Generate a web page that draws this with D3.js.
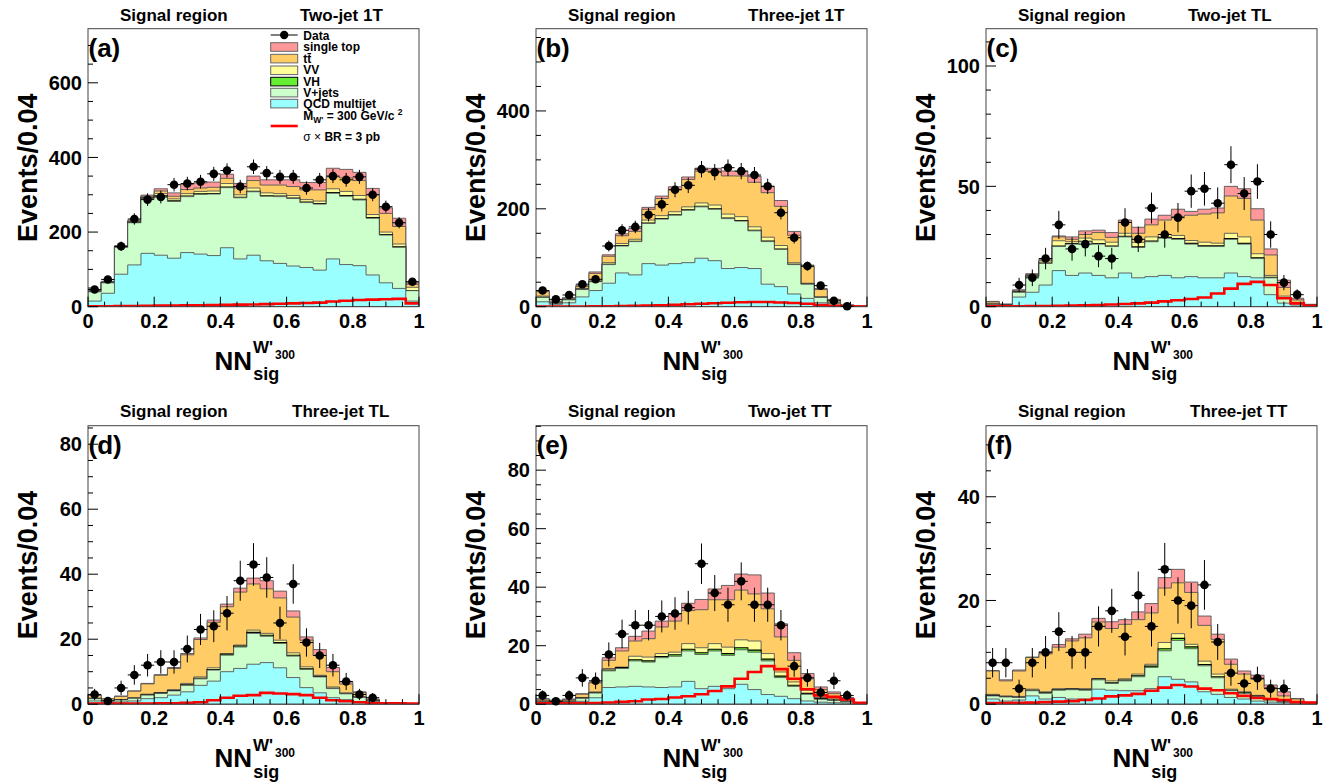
<!DOCTYPE html>
<html>
<head>
<meta charset="utf-8">
<script src="https://cdn.jsdelivr.net/npm/d3@7/dist/d3.min.js"></script>
<style>
  html, body { margin: 0; padding: 0; background: #fff; }
  svg { display: block; }
  text { font-family: "Liberation Sans", Arial, Helvetica, sans-serif; font-weight: bold; fill: #000; }
</style>
</head>
<body>
<svg id="chart" width="1338" height="783"></svg>
<script>
// ---------------- DATA (25 bins of width 0.04 in NN_sig) ----------------
const nBins = 25;
const binEdges = d3.range(nBins + 1).map(i => i / nBins);

// Panel (a) Two-jet 1T
const a_data  = [46, 73, 162, 235, 287, 294, 327, 330, 335, 356, 365, 322, 375, 358, 348, 348, 318, 340, 350, 340, 348, 300, 268, 225, 67];
const a_qcd   = [15, 36, 87, 112, 143, 138, 130, 145, 141, 137, 158, 128, 138, 123, 116, 109, 105, 98, 128, 113, 110, 85, 64, 49, 15];
const a_vjets = [25, 28, 72, 113, 147, 158, 152, 150, 160, 165, 161, 164, 170, 173, 179, 181, 174, 177, 176, 183, 176, 152, 128, 110, 28];
const a_vh    = [0.3, 0.5, 1, 1, 1.5, 1.5, 1.5, 1.5, 1.5, 1.5, 1.5, 1.5, 1.5, 1.5, 1.5, 1.5, 1.5, 1.5, 2, 2, 2, 2, 1.5, 1.5, 0.5];
const a_vv    = [1.7, 1.5, 1, 2, 1.5, 5.5, 5.5, 6.5, 6.5, 6.5, 9.5, 6.5, 8.5, 7.5, 6.5, 6.5, 6.5, 6.5, 10, 11, 10, 8, 6.5, 7.5, 8.5];
const a_tt    = [1, 1, 1, 2, 3, 7, 7, 11, 9, 10, 14, 18, 20, 21, 23, 24, 26, 30, 32, 36, 40, 53, 50, 47, 8];
const a_st    = [2, 1, 1, 2, 3, 6, 9, 14, 14, 14, 11, 12, 12, 14, 14, 18, 20, 20, 23, 23, 22, 17, 15, 22, 4];
const a_sig   = [1, 1, 1.5, 2, 2.5, 3, 3, 3.5, 4, 4.5, 5, 5.5, 6, 7, 8, 9, 10, 11, 14, 16, 18, 19, 20, 21, 9];

// Panel (b) Three-jet 1T
const b_data  = [33, 15, 24, 46, 56, 124, 156, 163, 188, 209, 239, 248, 281, 275, 284, 277, 269, 246, 192, 141, 83, 43, 12, 1, 0];
const b_qcd   = [10, 5, 8, 20, 33, 48, 69, 65, 88, 85, 88, 90, 99, 94, 78, 80, 78, 46, 41, 26, 17, 8, 3, 1, 0.5];
const b_vjets = [9, 2, 6, 15, 18, 38, 55, 68, 82, 94, 99, 107, 105, 105, 102, 95, 77, 87, 76, 60, 29, 11, 4, 1, 0.2];
const b_vh    = [0.2, 0.1, 0.1, 0.3, 0.5, 0.6, 0.8, 0.8, 1, 1, 1, 1, 1.2, 1.2, 1.2, 1.2, 1.2, 1, 1, 0.8, 0.5, 0.3, 0.1, 0.05, 0];
const b_vv    = [2.5, 0.9, 0.9, 1.7, 2.5, 3.4, 4.2, 4, 6, 6, 6, 6, 6.8, 7.5, 8, 7.8, 7, 8, 7, 3, 1.5, 0.7, 0.4, 0.1, 0];
const b_tt    = [9, 2, 2, 4, 14, 13, 16, 16, 22, 35, 45, 56, 65, 69, 78, 83, 91, 91, 80, 56, 34, 15, 6.5, 0.9, 0];
const b_st    = [2, 1.5, 1.5, 2, 3, 3, 4, 6, 4, 5, 6, 5, 6, 6, 10, 10, 12, 13, 12, 8, 3, 2, 1, 0.7, 0];
const b_sig   = [0.3, 0.3, 0.4, 0.5, 0.7, 1, 1.3, 1.7, 2.2, 3, 4, 5, 6, 7, 8, 9, 9.5, 9.5, 8.5, 7.5, 6, 3.5, 2, 1, 0.5];

// Panel (c) Two-jet TL
const c_data  = [0, 0, 9, 12, 20, 34, 24, 26, 21, 20, 35, 28, 41, 30, 37, 48, 49, 43, 59, 47, 52, 30, 10, 5, 0];
const c_qcd   = [0.7, 0.3, 4, 6, 9, 15, 13, 14, 13, 12, 14, 12, 12.5, 13, 12, 12.5, 12, 12, 14, 12.5, 12, 5, 1.5, 0.7, 0.3];
const c_vjets = [0.3, 0.4, 2, 6.5, 9, 10, 13, 13, 13, 13, 15, 12.6, 14.5, 15.5, 16, 13.5, 13, 13, 14, 13.5, 8, 7, 2.2, 0.7, 0.3];
const c_vh    = [0, 0, 0.05, 0.1, 0.15, 0.2, 0.2, 0.2, 0.2, 0.2, 0.25, 0.25, 0.25, 0.3, 0.3, 0.3, 0.3, 0.3, 0.3, 0.3, 0.3, 0.2, 0.1, 0.05, 0];
const c_vv    = [0.2, 0.1, 0.25, 0.4, 0.85, 2.2, 0.8, 1.3, 1.6, 1.6, 1.25, 1.85, 1.75, 1.2, 1.3, 1.2, 1.5, 1.1, 2.2, 2.7, 1.7, 0.8, 0.6, 0.35, 0.1];
const c_tt    = [0.8, 0.2, 0.5, 0.4, 0.4, 1.6, 1, 1.5, 3, 2, 4.5, 3.8, 5, 6, 7.9, 10.5, 11.7, 12.6, 15.5, 16, 14, 8.5, 3.6, 1, 0.1];
const c_st    = [0.2, 0.1, 0.2, 0.3, 0.6, 0.4, 1, 1.5, 1, 2, 1, 2.5, 2.4, 2, 3, 1.6, 2, 2, 4, 4, 4.7, 2.5, 3, 0.7, 0.2];
const c_sig   = [0.2, 0.2, 0.2, 0.3, 0.3, 0.4, 0.5, 0.6, 0.7, 0.9, 1.1, 1.4, 1.7, 2.2, 2.7, 3.2, 3.8, 5.5, 7.5, 9.5, 10.3, 9, 3.5, 1.4, 0.4];

// Panel (d) Three-jet TL
const d_data  = [3, 1, 5, 9, 12, 13, 13, 17, 23, 24, 28, 38, 43, 39, 25, 37, 19, 15, 12, 7, 3, 2, 0, 0, 0];
const d_qcd   = [1, 0.5, 0.7, 1, 1.7, 2, 2.8, 3.8, 5.8, 7.1, 10, 11, 12.3, 12.8, 11.2, 8.2, 5.1, 3.5, 2, 1.4, 0.7, 0.4, 0.1, 0.1, 0.1];
const d_vjets = [0.7, 0.6, 0.6, 0.8, 1.1, 1.3, 1.3, 2, 2, 3.4, 5.1, 6.6, 9.5, 8.1, 7.5, 6.6, 5.6, 4.9, 2.8, 1.8, 1.4, 0.5, 0.25, 0.05, 0];
const d_vh    = [0.05, 0.05, 0.05, 0.05, 0.1, 0.1, 0.1, 0.15, 0.2, 0.2, 0.25, 0.3, 0.3, 0.3, 0.3, 0.25, 0.2, 0.15, 0.1, 0.1, 0.05, 0.05, 0, 0, 0];
const d_vv    = [0.15, 0.05, 0.05, 0.15, 0.2, 0.2, 0.3, 0.45, 0.4, 0.5, 0.25, 0.3, 0.7, 0.6, 0.7, 0.75, 0.6, 0.35, 0.4, 0.2, 0.15, 0.05, 0.05, 0.05, 0];
const d_tt    = [0.8, 0.45, 1, 2, 3.15, 5.3, 6.5, 8.8, 11.5, 14, 14.4, 16.3, 14.2, 13.7, 13, 11, 8.2, 6.1, 4.7, 2.7, 1.3, 0.4, 0.05, 0, 0];
const d_st    = [0.1, 0.05, 0.1, 0.1, 0.15, 0.2, 0.3, 0.4, 0.5, 0.7, 0.8, 1.2, 1.8, 2.5, 2.1, 1.9, 1, 1.8, 1.3, 0.7, 0.2, 0.2, 0.05, 0, 0];
const d_sig   = [0.2, 0.2, 0.2, 0.2, 0.2, 0.25, 0.3, 0.4, 0.6, 1.2, 2, 2.6, 2.8, 3.5, 3.3, 3.1, 2.8, 2, 1.2, 0.9, 0.6, 0.3, 0.3, 0.3, 0.2];

// Panel (e) Two-jet TT
const e_data  = [3, 1, 3, 9, 8, 17, 24, 27, 27, 30, 31, 33, 48, 38, 34, 42, 34, 34, 27, 13, 9, 4, 8, 3, 0];
const e_qcd   = [0.7, 0.5, 0.6, 1, 2.2, 5.7, 5.9, 6.1, 5.9, 5.7, 5.9, 7.8, 5.3, 6.1, 5.3, 6.8, 5, 3.3, 2.7, 1.9, 1.1, 0.7, 0.5, 0.4, 0.2];
const e_vjets = [0.2, 0.1, 0.3, 1, 1.6, 5.7, 6.3, 8.7, 8.5, 10.2, 10.5, 10.4, 11.7, 12.1, 11.4, 11.8, 12.8, 11.5, 6.4, 4.2, 2.3, 1, 0.8, 0.4, 0.1];
const e_vh    = [0.05, 0.05, 0.05, 0.1, 0.1, 0.3, 0.3, 0.4, 0.4, 0.4, 0.5, 0.6, 0.6, 0.6, 0.6, 0.7, 0.7, 0.6, 0.5, 0.4, 0.3, 0.2, 0.1, 0.05, 0];
const e_vv    = [0.15, 0.05, 0.15, 0.2, 0.3, 0.5, 0.2, 1.2, 1.3, 1, 0.9, 1.9, 1.7, 1.9, 2.2, 2.7, 3.1, 1.9, 1.4, 1.1, 1.1, 0.4, 0.4, 0.25, 0];
const e_tt    = [0.6, 0.4, 0.5, 1.1, 3.1, 2.8, 5.5, 5.2, 6.3, 9.1, 10.6, 11.3, 13, 15, 16.2, 17, 16.1, 15.3, 12, 7.4, 3.9, 2.7, 1.8, 0.8, 0];
const e_st    = [0.2, 0.3, 0.2, 0.2, 0.3, 0.9, 1.1, 1.6, 2.6, 2, 2.3, 2.5, 3.5, 3.7, 4.9, 5.5, 6.5, 5.4, 4.5, 2.6, 1.8, 0.9, 0.6, 0.4, 0.2];
const e_sig   = [0.3, 0.3, 0.3, 0.3, 0.4, 0.6, 0.8, 1, 1.6, 1.8, 2.3, 2.7, 3.4, 4.5, 6.1, 8.7, 11, 13, 12, 8.7, 5.1, 3, 2.5, 1.6, 0.5];

// Panel (f) Three-jet TT
const f_data  = [8, 8, 3, 8, 10, 14, 10, 10, 15, 18, 13, 21, 15, 26, 20, 19, 23, 12, 6, 4, 5, 3, 3, 0, 0];
const f_qcd   = [1, 0.6, 0.8, 1.6, 1, 1.3, 1, 1, 2.9, 2.7, 2.6, 2.6, 3, 5.3, 4.8, 4.3, 2.4, 1.9, 1.3, 1, 0.6, 0.4, 0.3, 0.2, 0.1];
const f_vjets = [0.6, 0.8, 0.5, 1, 1.1, 1.4, 1.8, 1.7, 1.8, 1.3, 1.9, 2.7, 4.1, 5, 7.5, 6.4, 5, 3.2, 1.3, 1.1, 0.9, 0.4, 0.2, 0.1, 0];
const f_vh    = [0.1, 0.05, 0.05, 0.1, 0.1, 0.1, 0.1, 0.1, 0.15, 0.15, 0.15, 0.2, 0.25, 0.4, 0.4, 0.35, 0.25, 0.2, 0.1, 0.1, 0.05, 0.05, 0, 0, 0];
const f_vv    = [0.2, 0.15, 0.15, 0.2, 0.2, 0.2, 0.1, 0.2, 0.1, 0.35, 0.25, 0.3, 0.35, 1.2, 0.9, 0.5, 0.65, 0.5, 0.2, 0.2, 0.15, 0.15, 0.1, 0, 0];
const f_tt    = [4.5, 2.9, 4.9, 6.1, 7.3, 8, 9.2, 9.8, 10.9, 10.1, 10.5, 10.5, 9.9, 10.5, 9.8, 10, 6.9, 6.7, 4.8, 3.4, 3.1, 2.2, 1, 0.7, 0];
const f_st    = [0.1, 0.2, 0.2, 0.1, 0.4, 0.5, 0.4, 0.7, 0.7, 1.3, 0.9, 1.5, 1.8, 2, 2.6, 2, 1.8, 1, 1, 0.6, 0.8, 0.5, 0.8, 0.1, 0.3];
const f_sig   = [0.2, 0.2, 0.25, 0.3, 0.4, 0.5, 0.6, 0.8, 1.1, 1.5, 1.7, 2, 2.6, 3.2, 3.7, 3.4, 3, 2.7, 2.1, 1.6, 1.2, 1, 0.8, 0.4, 0.3];

// Text labels
const panelLetters = ["(a)", "(b)", "(c)", "(d)", "(e)", "(f)"];
const regionLabels = ["Two-jet 1T", "Three-jet 1T", "Two-jet TL", "Three-jet TL", "Two-jet TT", "Three-jet TT"];
const yMaxes = [745, 568, 115.5, 85.7, 95.2, 53.7];
const yMajorSteps = [200, 200, 50, 20, 20, 20];
const yMinorSteps = [50, 50, 10, 5, 5, 5];
const legendLabels = ["Data", "single top", "tt", "VV", "VH", "V+jets", "QCD multijet"];

// ---------------- LAYOUT / STYLE ----------------
const colLeft = [88, 536, 986];
const rowTop = [28.7, 425.7];
const rowHeight = [278, 278.5];
const plotW = 331;
const regionX = [212, 212, 202, 204, 212, 204];
const keys = ["qcd", "vjets", "vh", "vv", "tt", "st"];
const fills = { qcd: "#99ffff", vjets: "#ccffcc", vh: "#66ee33", vv: "#ffff99", tt: "#ffcc66", st: "#ff9999" };
const strokes = { qcd: "#555", vjets: "#555", vh: "#000", vv: "#555", tt: "#555", st: "#555" };

const panels = [
  { data: a_data, comps: { qcd: a_qcd, vjets: a_vjets, vh: a_vh, vv: a_vv, tt: a_tt, st: a_st }, sig: a_sig },
  { data: b_data, comps: { qcd: b_qcd, vjets: b_vjets, vh: b_vh, vv: b_vv, tt: b_tt, st: b_st }, sig: b_sig },
  { data: c_data, comps: { qcd: c_qcd, vjets: c_vjets, vh: c_vh, vv: c_vv, tt: c_tt, st: c_st }, sig: c_sig },
  { data: d_data, comps: { qcd: d_qcd, vjets: d_vjets, vh: d_vh, vv: d_vv, tt: d_tt, st: d_st }, sig: d_sig },
  { data: e_data, comps: { qcd: e_qcd, vjets: e_vjets, vh: e_vh, vv: e_vv, tt: e_tt, st: e_st }, sig: e_sig },
  { data: f_data, comps: { qcd: f_qcd, vjets: f_vjets, vh: f_vh, vv: f_vv, tt: f_tt, st: f_st }, sig: f_sig }
];

const svg = d3.select("#chart");

panels.forEach((p, idx) => {
  const col = idx % 3, row = Math.floor(idx / 3);
  const left = colLeft[col], top = rowTop[row], h = rowHeight[row];
  const bottom = top + h;
  const x = d3.scaleLinear().domain([0, 1]).range([left, left + plotW]);
  const y = d3.scaleLinear().domain([0, yMaxes[idx]]).range([bottom, top]);
  const g = svg.append("g");

  const clipId = "clip" + idx;
  svg.append("clipPath").attr("id", clipId).append("rect")
    .attr("x", left).attr("y", top).attr("width", plotW).attr("height", h);

  // stacked backgrounds
  const rows = d3.range(nBins).map(i => {
    const o = {};
    keys.forEach(k => o[k] = p.comps[k][i]);
    return o;
  });
  const stacked = d3.stack().keys(keys)(rows);
  const hist = g.append("g").attr("clip-path", `url(#${clipId})`);
  for (let k = keys.length - 1; k >= 0; k--) {
    const layer = stacked[k];
    const pts = binEdges.map((e, i) => ({ e, v: layer[Math.min(i, nBins - 1)][1] }));
    const area = d3.area().x(d => x(d.e)).y0(y(0)).y1(d => y(d.v)).curve(d3.curveStepAfter);
    hist.append("path").attr("d", area(pts))
      .attr("fill", fills[keys[k]]).attr("stroke", strokes[keys[k]])
      .attr("stroke-width", keys[k] === "vh" ? 1.1 : 0.9);
  }

  // signal line
  const sigPts = binEdges.map((e, i) => ({ e, v: p.sig[Math.min(i, nBins - 1)] }));
  const line = d3.line().x(d => x(d.e)).y(d => y(d.v)).curve(d3.curveStepAfter);
  hist.append("path").attr("d", line(sigPts)).attr("fill", "none")
    .attr("stroke", "#ff0000").attr("stroke-width", 2.6);

  // frame
  g.append("rect").attr("x", left).attr("y", top).attr("width", plotW).attr("height", h)
    .attr("fill", "none").attr("stroke", "#444").attr("stroke-width", 1);

  // y ticks
  const yMaj = d3.range(0, yMaxes[idx] + 1e-9, yMajorSteps[idx]);
  const yMin = d3.range(0, yMaxes[idx] + 1e-9, yMinorSteps[idx]);
  yMin.forEach(v => {
    const isMaj = Math.abs(v / yMajorSteps[idx] - Math.round(v / yMajorSteps[idx])) < 1e-6;
    g.append("line").attr("x1", left).attr("x2", left + (isMaj ? 10 : 5))
      .attr("y1", y(v)).attr("y2", y(v)).attr("stroke", "#000").attr("stroke-width", 1);
  });
  yMaj.forEach(v => {
    g.append("text").attr("x", left - 6).attr("y", y(v)).attr("dy", "0.36em")
      .attr("text-anchor", "end").style("font-size", "20px").text(v);
  });

  // x ticks
  const xMin = d3.range(0, 1.0001, 0.05);
  xMin.forEach(v => {
    const isMaj = Math.abs(v * 5 - Math.round(v * 5)) < 1e-6;
    g.append("line").attr("x1", x(v)).attr("x2", x(v))
      .attr("y1", bottom).attr("y2", bottom - (isMaj ? 10 : 5))
      .attr("stroke", "#000").attr("stroke-width", 1);
  });
  x.ticks(5).forEach(v => {
    g.append("text").attr("x", x(v)).attr("y", bottom + 21)
      .attr("text-anchor", "middle").style("font-size", "20px").text(d3.format("~g")(v));
  });

  // data points
  const dg = g.append("g");
  p.data.forEach((n, i) => {
    if (n <= 0) return;
    const cx = x((binEdges[i] + binEdges[i + 1]) / 2);
    const err = Math.sqrt(n);
    dg.append("line").attr("x1", cx).attr("x2", cx)
      .attr("y1", y(Math.max(0, n - err))).attr("y2", Math.max(top, y(n + err)))
      .attr("stroke", "#000").attr("stroke-width", 1);
    dg.append("line").attr("x1", x(binEdges[i])).attr("x2", x(binEdges[i + 1]))
      .attr("y1", y(n)).attr("y2", y(n)).attr("stroke", "#000").attr("stroke-width", 1);
    dg.append("circle").attr("cx", cx).attr("cy", y(n)).attr("r", 4.3).attr("fill", "#000");
  });

  // titles
  const titleY = row === 0 ? 20.5 : 416.7;
  g.append("text").attr("x", left + 32).attr("y", titleY).style("font-size", "17px").text("Signal region");
  g.append("text").attr("x", left + regionX[idx]).attr("y", titleY).style("font-size", "17px").text(regionLabels[idx]);

  // panel letter
  g.append("text").attr("x", left + 0.5).attr("y", top + 28.5).style("font-size", "26px").text(panelLetters[idx]);

  // y-axis title
  const yc = top + h / 2;
  g.append("text").attr("transform", `translate(${left - 51},${yc}) rotate(-90)`)
    .attr("text-anchor", "middle").style("font-size", "27px").text("Events/0.04");

  // x-axis title
  const xc = left + plotW / 2;
  g.append("text").attr("x", xc - 1.5).attr("y", bottom + 62.8).attr("text-anchor", "end")
    .style("font-size", "26px").text("NN");
  g.append("text").attr("x", xc - 0.5).attr("y", bottom + 46.6).style("font-size", "17px").text("W'");
  g.append("text").attr("x", xc + 21.5).attr("y", bottom + 52.6).style("font-size", "12px").text("300");
  g.append("text").attr("x", xc - 0.2).attr("y", bottom + 73.3).style("font-size", "18px").text("sig");

  // legend (panel a only)
  if (idx === 0) {
    const lg = g.append("g");
    const bx = left + 182.7, tx = left + 215.3;
    const fs = "12px";
    // Data
    lg.append("line").attr("x1", bx).attr("x2", bx + 27).attr("y1", top + 6.3).attr("y2", top + 6.3)
      .attr("stroke", "#000").attr("stroke-width", 1);
    lg.append("circle").attr("cx", bx + 13.5).attr("cy", top + 6.3).attr("r", 4.2).attr("fill", "#000");
    lg.append("text").attr("x", tx).attr("y", top + 11.5).style("font-size", fs).text(legendLabels[0]);
    const boxKeys = ["st", "tt", "vv", "vh", "vjets", "qcd"];
    const boxTops = [14, 25.6, 37.3, 48.6, 59.6, 70.6];
    boxKeys.forEach((k, j) => {
      lg.append("rect").attr("x", bx).attr("y", top + boxTops[j]).attr("width", 27).attr("height", 8.6)
        .attr("fill", fills[k]).attr("stroke", k === "vh" ? "#000" : "#666").attr("stroke-width", 1);
      lg.append("text").attr("x", tx).attr("y", top + boxTops[j] + 8.4).style("font-size", fs)
        .text(legendLabels[j + 1]);
    });
    // overbar on the second t of tt
    lg.append("line").attr("x1", tx + 4.2).attr("x2", tx + 7.8)
      .attr("y1", top + 24.9).attr("y2", top + 24.9).attr("stroke", "#000").attr("stroke-width", 1.2);
    // signal entry
    lg.append("line").attr("x1", bx).attr("x2", bx + 27).attr("y1", top + 97.3).attr("y2", top + 97.3)
      .attr("stroke", "#ff0000").attr("stroke-width", 2.6);
    const mt = lg.append("text").attr("x", tx).attr("y", top + 91.5).style("font-size", fs);
    mt.append("tspan").text("M");
    mt.append("tspan").attr("dy", 3).style("font-size", "8.5px").text("W'");
    mt.append("tspan").attr("dy", -3).text(" = 300 GeV/c ");
    mt.append("tspan").attr("dy", -5).style("font-size", "8.5px").text("2");
    lg.append("text").attr("x", tx).attr("y", top + 111.8).style("font-size", fs)
      .html('<tspan style="font-weight:normal">\u03c3 \u00d7 </tspan>BR = 3 pb');
  }
});
</script>
</body>
</html>
